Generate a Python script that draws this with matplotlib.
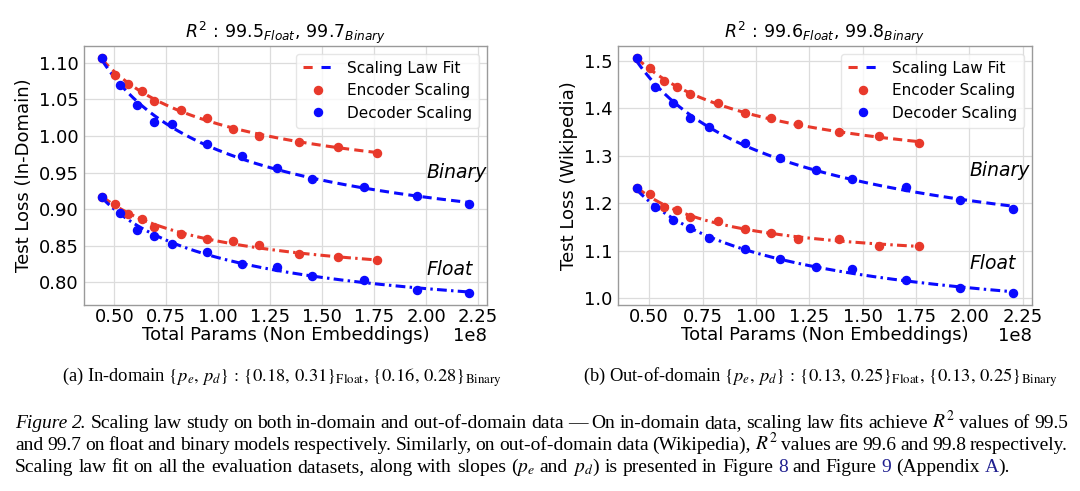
import numpy as np
import matplotlib
matplotlib.use("Agg")
import matplotlib.pyplot as plt
from matplotlib.lines import Line2D
from matplotlib.legend_handler import HandlerTuple

# ---------------- data (params in units of 1e8) ----------------
x_enc = [0.442, 0.503, 0.567, 0.632, 0.692, 0.821, 0.947, 1.072, 1.197, 1.387, 1.575, 1.764]
x_dec = [0.442, 0.527, 0.611, 0.692, 0.779, 0.947, 1.115, 1.281, 1.449, 1.702, 1.954, 2.205]

# In-domain
enc_bin_id = [1.107, 1.084, 1.071, 1.061, 1.048, 1.036, 1.025, 1.010, 1.000, 0.992, 0.985, 0.977]
dec_bin_id = [1.107, 1.070, 1.042, 1.019, 1.017, 0.989, 0.973, 0.956, 0.941, 0.930, 0.918, 0.907]
enc_flt_id = [0.917, 0.907, 0.894, 0.886, 0.876, 0.866, 0.859, 0.856, 0.851, 0.838, 0.834, 0.830]
dec_flt_id = [0.917, 0.895, 0.872, 0.863, 0.852, 0.841, 0.825, 0.821, 0.808, 0.803, 0.790, 0.785]

# Out-of-domain (Wikipedia)
enc_bin_w = [1.506, 1.485, 1.457, 1.444, 1.430, 1.410, 1.389, 1.380, 1.367, 1.350, 1.342, 1.326]
dec_bin_w = [1.506, 1.445, 1.410, 1.379, 1.360, 1.327, 1.295, 1.270, 1.251, 1.235, 1.207, 1.188]
enc_flt_w = [1.232, 1.219, 1.193, 1.185, 1.172, 1.163, 1.145, 1.137, 1.125, 1.126, 1.111, 1.111]
dec_flt_w = [1.232, 1.192, 1.164, 1.149, 1.127, 1.104, 1.082, 1.066, 1.061, 1.039, 1.022, 1.011]

titles = [r"$R^2\,:\,99.5_{Float},\,99.7_{Binary}$", r"$R^2\,:\,99.6_{Float},\,99.8_{Binary}$"]
ylabels = ["Test Loss (In-Domain)", "Test Loss (Wikipedia)"]
xlabel = "Total Params (Non Embeddings)"
ytick_sets = [[0.80, 0.85, 0.90, 0.95, 1.00, 1.05, 1.10], [1.0, 1.1, 1.2, 1.3, 1.4, 1.5]]
ytick_fmt = ["{:.2f}", "{:.1f}"]
xticks = [0.50, 0.75, 1.00, 1.25, 1.50, 1.75, 2.00, 2.25]
binary_y = [0.950, 1.2696]
float_y = [0.818, 1.0735]

subcaps = [
    r"(a) In-domain $\{p_e,\, p_d\}\,:\,\{0.18,\, 0.31\}_{\rm Float},\, \{0.16,\, 0.28\}_{\rm Binary}$",
    r"(b) Out-of-domain $\{p_e,\, p_d\}\,:\,\{0.13,\, 0.25\}_{\rm Float},\, \{0.13,\, 0.25\}_{\rm Binary}$",
]

RED = "#e8392b"
BLUE = "#0a0aff"

plt.rcParams["mathtext.fontset"] = "dejavusans"

W, H = 1080, 491
fig = plt.figure(figsize=(W / 100, H / 100), dpi=100)


def px_axes(l, r, t, b):
    return fig.add_axes([l / W, 1 - b / H, (r - l) / W, (b - t) / H])


axes = [px_axes(84, 487, 46, 305), px_axes(618, 1032, 46, 305)]
datasets = [
    (enc_bin_id, dec_bin_id, enc_flt_id, dec_flt_id),
    (enc_bin_w, dec_bin_w, enc_flt_w, dec_flt_w),
]


def fit_curve(x, y):
    """Scaling-law fit L = E + A * N^b (b<0), offset found by grid search."""
    x = np.asarray(x, float)
    y = np.asarray(y, float)
    lx = np.log(x)
    best = None
    for E in np.linspace(0.0, 0.985 * y.min(), 600):
        b, a = np.polyfit(lx, np.log(y - E), 1)
        pred = E + np.exp(a) * x ** b
        sse = np.sum((pred - y) ** 2)
        if best is None or sse < best[0]:
            best = (sse, E, a, b)
    _, E, a, b = best
    xs = np.linspace(x.min(), x.max(), 300)
    return xs, E + np.exp(a) * xs ** b


LW = 2.2
DASH = (3.0, 1.7)
DASHDOT = (3.2, 1.4, 0.8, 1.4)
MS = 5.8

for i, ax in enumerate(axes):
    eb, db, ef, df = datasets[i]
    xe = np.array(x_enc) * 1e8
    xd = np.array(x_dec) * 1e8
    for xx, yy, col, dsh in [(xe, eb, RED, DASH), (xd, db, BLUE, DASH),
                             (xe, ef, RED, DASHDOT), (xd, df, BLUE, DASHDOT)]:
        fx, fy = fit_curve(xx, yy)
        ax.plot(fx, fy, color=col, lw=LW, dashes=dsh, zorder=3)
    for xx, yy, col in [(xe, eb, RED), (xe, ef, RED), (xd, db, BLUE), (xd, df, BLUE)]:
        ax.plot(xx, yy, "o", color=col, ms=MS, zorder=4)

    ax.set_xticks([v * 1e8 for v in xticks])
    ax.set_yticks(ytick_sets[i])
    ax.set_yticklabels([ytick_fmt[i].format(v) for v in ytick_sets[i]])
    ax.tick_params(axis="x", length=0, labelsize=13, pad=2)
    ax.tick_params(axis="y", length=0, labelsize=13, pad=4)
    ax.xaxis.get_offset_text().set_visible(False)
    ax.text(1.0, -0.118, "1e8", transform=ax.transAxes, ha="right", va="center", fontsize=13)
    ax.grid(True, color="#dcdcdc", lw=0.9)
    ax.set_axisbelow(True)
    for s in ax.spines.values():
        s.set_color("#9a9a9a")
        s.set_linewidth(1.0)
    ax.set_title(titles[i], fontsize=12.5, pad=6)
    ax.set_ylabel(ylabels[i], fontsize=13, labelpad=4)
    ax.set_xlabel(xlabel, fontsize=13, labelpad=0)
    ax.text(2.0e8, binary_y[i], "Binary", style="italic", fontsize=13.5, ha="left", va="center")
    ax.text(2.0e8, float_y[i], "Float", style="italic", fontsize=13.5, ha="left", va="center")

    h_fit = (Line2D([], [], color=RED, lw=LW, dashes=DASH), Line2D([], [], color=BLUE, lw=LW, dashes=DASH))
    h_enc = Line2D([], [], color=RED, marker="o", ls="none", ms=MS)
    h_dec = Line2D([], [], color=BLUE, marker="o", ls="none", ms=MS)
    ax.legend([h_fit, h_enc, h_dec], ["Scaling Law Fit", "Encoder Scaling", "Decoder Scaling"],
              handler_map={tuple: HandlerTuple(ndivide=None, pad=0.45)},
              loc="upper right", fontsize=11, handlelength=1.9, borderpad=0.45,
              labelspacing=0.5, handletextpad=1.0, framealpha=0.8, edgecolor="#e0e0e0",
              borderaxespad=0.5)

# ---------------- captions ----------------
SERIF = ["Liberation Serif", "DejaVu Serif"]
fig.canvas.draw()
renderer = fig.canvas.get_renderer()

cap_props = dict(fontsize=13.3, family=SERIF, math_fontfamily="stix", va="baseline")
fig.text(282 / W, 1 - 382 / H, subcaps[0], ha="center", **cap_props)
fig.text(820 / W, 1 - 382 / H, subcaps[1], ha="center", **cap_props)

LINK = "#1f1f8f"
FS = 14.0

line1 = [("Figure", {"style": "italic"}), ("2.", {"style": "italic"})] + \
    [(w, {}) for w in "Scaling law study on both in-domain and out-of-domain data \u2014 On in-domain data, scaling law fits achieve".split(" ")] + \
    [(r"$R^2$", {}), ("values", {}), ("of", {}), ("99.5", {})]
line2 = [(w, {}) for w in "and 99.7 on float and binary models respectively. Similarly, on out-of-domain data (Wikipedia),".split(" ")] + \
    [(r"$R^2$", {}), ] + [(w, {}) for w in "values are 99.6 and 99.8 respectively.".split(" ")]
line3 = [(w, {}) for w in "Scaling law fit on all the evaluation datasets, along with slopes".split(" ")] + \
    [(r"($p_e$", {}), ("and", {}), (r"$p_d$)", {})] + \
    [(w, {}) for w in "is presented in Figure".split(" ")] + [("8", {"color": LINK})] + \
    [("and", {}), ("Figure", {})] + [("9", {"color": LINK})] + [("(Appendix", {})] + \
    [("A", {"color": LINK, "suffix": ")."})]


def measure(s):
    t = fig.text(0, 0, s, fontsize=FS, family=SERIF)
    w = t.get_window_extent(renderer).width
    t.remove()
    return w


def draw_words(words, x0, ybase, x1=None):
    arts = []
    widths = []
    for w, kw in words:
        kw = dict(kw)
        suffix = kw.pop("suffix", None)
        t = fig.text(0, 1 - ybase / H, w, fontsize=FS, family=SERIF, math_fontfamily="stix",
                     va="baseline", ha="left", **kw)
        bb = t.get_window_extent(renderer)
        wsum = bb.width
        tsuf = None
        if suffix:
            tsuf = fig.text(0, 1 - ybase / H, suffix, fontsize=FS, family=SERIF,
                            va="baseline", ha="left")
            wsum += tsuf.get_window_extent(renderer).width
        arts.append((t, tsuf, bb.width))
        widths.append(wsum)
    space = measure("a a") - 2 * measure("a")
    if x1 is not None and len(words) > 1:
        gap = (x1 - x0 - sum(widths)) / (len(words) - 1)
    else:
        gap = space
    x = x0
    for (t, tsuf, wmain), wtot in zip(arts, widths):
        t.set_x(x / W)
        if tsuf is not None:
            tsuf.set_x((x + wmain) / W)
        x += wtot + gap


draw_words(line1, 15, 428, 1068)
draw_words(line2, 15, 450, 1068)
draw_words(line3, 15, 472, None)

fig.savefig("out.png", dpi=100)
